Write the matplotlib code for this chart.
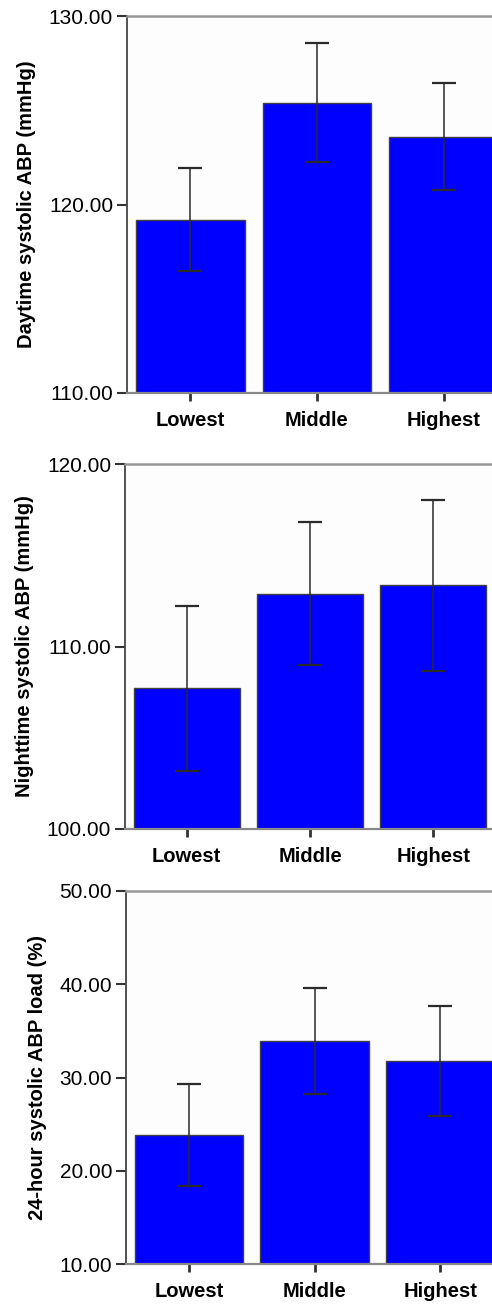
import numpy as np
import matplotlib
matplotlib.use('Agg')
import matplotlib.pyplot as plt

plt.rcParams['font.family'] = ['Liberation Sans', 'DejaVu Sans']

# data
groups = ['Lowest', 'Middle', 'Highest']

day_mean = [119.2, 125.4, 123.6]
day_err = [2.75, 3.15, 2.85]

night_mean = [107.7, 112.9, 113.35]
night_err = [4.5, 3.9, 4.7]

load_mean = [23.8, 33.9, 31.8]
load_err = [5.45, 5.65, 5.9]

panels = [
    (day_mean, day_err, 'Daytime systolic ABP (mmHg)', (110, 130), [110, 120, 130]),
    (night_mean, night_err, 'Nighttime systolic ABP (mmHg)', (100, 120), [100, 110, 120]),
    (load_mean, load_err, '24-hour systolic ABP load (%)', (10, 50), [10, 20, 30, 40, 50]),
]

# axes boxes in pixels: left, right, top, bottom
boxes = [(127, 507, 16, 393), (125, 495, 464, 829), (126, 503, 891, 1264)]

W, H = 492, 1306
fig = plt.figure(figsize=(W / 100, H / 100), dpi=100)

for (means, errs, label, ylim, yticks), (l, r, t, b) in zip(panels, boxes):
    ax = fig.add_axes([l / W, 1 - b / H, (r - l) / W, (b - t) / H])
    x = np.arange(len(groups))
    ax.bar(x, means, width=0.86, color='#0000ff', edgecolor='#404040',
           linewidth=1.0, zorder=2)
    ax.errorbar(x, means, yerr=errs, fmt='none', ecolor='#2a2a2a',
                elinewidth=1.1, capsize=8.5, capthick=1.6, zorder=3)
    ax.set_xlim(-0.5, 2.5)
    ax.set_ylim(*ylim)
    ax.set_yticks(yticks)
    ax.set_yticklabels([f'{v:.2f}' for v in yticks], fontsize=15)
    ax.set_xticks(x)
    ax.set_xticklabels(groups, fontsize=14.5, fontweight='bold')
    ax.set_ylabel(label, fontsize=14.5, fontweight='bold', labelpad=9)
    ax.tick_params(axis='y', direction='out', length=7, width=1.5,
                   color='#333333', pad=3)
    ax.tick_params(axis='x', direction='out', length=6, width=2,
                   color='#333333', pad=7)
    ax.spines['left'].set_color('#444444')
    ax.spines['left'].set_linewidth(1.3)
    ax.spines['bottom'].set_color('#888888')
    ax.spines['bottom'].set_linewidth(1.6)
    ax.spines['top'].set_color('#999999')
    ax.spines['top'].set_linewidth(1.8)
    ax.spines['right'].set_visible(False)
    ax.set_facecolor('#fdfdfd')

fig.savefig('out.png', dpi=100)
